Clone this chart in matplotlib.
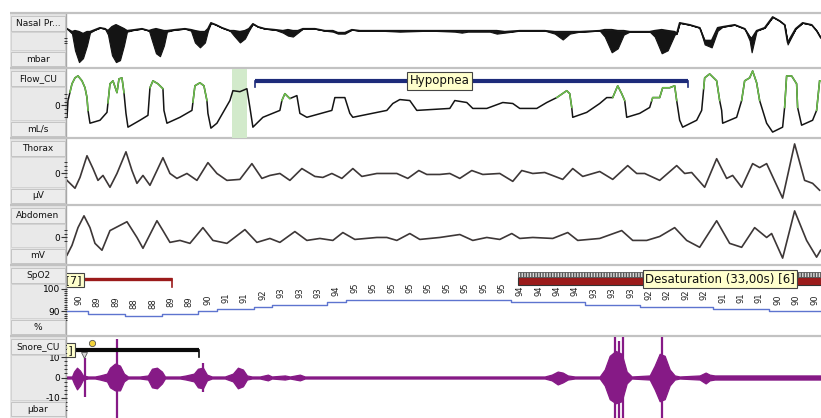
import numpy as np
import matplotlib
matplotlib.use("Agg")
import matplotlib.pyplot as plt
from matplotlib.patches import Rectangle

# ---------------------------------------------------------------- data
FS = 18.4
WINDOW = 41.0      # seconds shown in the page

# Nasal pressure: sample index, signal (top of flutter), lower flutter envelope
nasal_idx = [0, 5, 8, 12, 16, 20, 23, 28, 33, 38, 41, 45, 49, 53, 57, 60, 68, 75, 82, 85,
             89, 93, 97, 100, 108, 118, 124, 128, 133, 138, 141, 144, 149, 155, 163, 167,
             173, 178, 182, 186, 191, 198, 208, 216, 221, 226, 231, 236, 248, 258, 266, 271,
             278, 285, 293, 313, 333, 363, 388, 395, 401, 423, 430, 438, 453, 478, 488, 496,
             503, 513, 533, 538, 545, 551, 557, 563, 583, 588, 595, 601, 608, 610, 613, 623,
             633, 638, 645, 651, 656, 668, 678, 683, 685, 690, 698, 706, 713, 718, 721, 725,
             729, 736, 745, 750, 754]
nasal_val = [2, -1, 0, -1, -3, -1, -1, 1, 3, 2, 0, 4, 6, 4, 2, 0, 1, 2, 0, 1,
             2, 1, 0, 0, 1, 2, 1, 0, -1, -1, 2, 8, 6, 3, 0, 0,
             -1, 0, 2, 7, 4, 2, 1, 0, 1, 0, 0, 2, 2, 0, 0, -2,
             -2, 1, 0, 0, 0, 0, 0, 0, 0, 0, 0, -1, 0, 0, -1, -1,
             -1, -1, 0, 1, 1, 0, 0, -1, -1, 0, 1, 0, -1, -3, 8, 6,
             3, -10, -10, 3, 4, 6, 2, -6, -8, 0, 3, 14, 10, 6, -12, -5,
             2, 8, 6, 0, -7]
nasal_low = [2, -3, -20, -32, -28, -15, -2, 1, 3, 2, -4, -25, -32, -30, -15, -1, 1, 2, 0, -10,
             -23, -26, -15, -1, 1, 2, 0, -12, -17, -12, 0, 8, 6, 3, 0, -5,
             -12, -8, 0, 7, 4, 2, 1, -2, -5, -6, -2, 2, 2, 0, -1, -3,
             -3, 1, 0, 0, -1, 0, -1, -2, -1, -1, -3, -2, 0, 0, -3, -9,
             -3, -1, 0, -6, -22, -18, -4, -1, -1, -6, -23, -20, -4, -3, 8, 6,
             3, -14, -17, 0, 4, 6, 2, -10, -22, 0, 3, 14, 10, 6, -14, -6,
             2, 8, 6, 0, -7]

# Flow: sample index, value
flow_idx = [0, 1, 5, 8, 11, 15, 18, 20, 21, 23, 33, 40, 43, 46, 50, 52, 55, 57, 59, 61,
            73, 81, 83, 86, 91, 96, 97, 100, 113, 125, 128, 133, 137, 140, 141, 144, 150,
            163, 166, 173, 180, 183, 186, 196, 213, 215, 218, 223, 230, 233, 240, 265, 268,
            278, 283, 286, 320, 326, 333, 343, 350, 383, 388, 400, 406, 420, 436, 446, 453,
            470, 480, 490, 500, 503, 505, 506, 520, 533, 540, 546, 551, 555, 558, 560, 573,
            583, 586, 593, 596, 603, 608, 610, 613, 616, 630, 635, 638, 643, 650, 653, 655,
            656, 670, 675, 678, 683, 686, 690, 693, 700, 706, 716, 718, 720, 725, 730, 731,
            735, 746, 750, 753]
flow_val = [-12, 5, 22, 28, 30, 25, 18, 8, -5, -18, -15, -7, 22, 25, 13, 27, 28, 13, -8, -22,
            -15, -10, 18, 25, 22, 17, -5, -18, -12, -5, 20, 23, 20, 5, -8, -23, -18,
            5, 15, 14, 17, -2, -22, -12, -5, 5, 12, 7, 10, -8, -12, -5, 8,
            8, -8, -12, -5, 2, 6, 5, -5, -3, 5, 3, -3, -3, 3, 2, -3,
            -3, 3, 8, 15, 12, -2, -12, -7, 2, 8, 8, 20, 12, 5, -12, -8,
            -2, 8, 8, 18, 18, 20, 5, -15, -22, -15, -5, 28, 32, 25, 5, -5,
            -18, -12, 5, 25, 28, 35, 23, 5, -18, -27, -22, -2, 30, 30, 22, -2,
            -20, -15, -5, 25]
flow_green = [(3, 21), (41, 57), (83, 96), (126, 140), (215, 223), (490, 505), (546, 558),
              (585, 610), (637, 653), (675, 693), (718, 731), (750, 754)]

# Thorax effort
thorax_idx = [0, 8, 13, 20, 26, 31, 36, 43, 50, 59, 65, 70, 76, 83, 90, 96, 103, 110, 120,
              130, 141, 150, 160, 173, 185, 195, 203, 213, 223, 235, 248, 256, 265, 275, 286,
              295, 310, 330, 341, 352, 360, 373, 383, 393, 405, 416, 433, 446, 455, 466, 478,
              496, 506, 516, 533, 546, 561, 570, 578, 593, 610, 618, 625, 638, 650, 660, 666,
              675, 686, 693, 700, 716, 728, 738, 746, 753]
thorax_val = [-7, -15, -4, 18, 5, -7, -2, -14, 0, 22, 3, -10, -2, -12, 3, 16, 0, -5, 0,
              -7, 11, 0, -7, -6, 10, -5, -2, 0, -7, 5, -3, -4, 0, -5, 5,
              -3, 0, 0, -5, 3, -1, -1, 0, -5, 3, -1, 0, -8, 3, 0, 1,
              -6, 5, -3, 2, -6, 8, 0, 0, -7, 8, 0, 1, -14, 15, -5, -2,
              -14, 10, 6, 10, -25, 30, -7, -10, -17]

# Abdomen effort
abdomen_idx = [0, 5, 11, 17, 23, 28, 35, 43, 60, 70, 76, 90, 96, 103, 113, 123, 136, 146,
               160, 178, 190, 203, 213, 228, 240, 253, 266, 276, 288, 310, 320, 330, 343,
               353, 373, 393, 406, 420, 433, 445, 453, 466, 486, 501, 511, 533, 555, 566,
               580, 593, 608, 620, 633, 650, 663, 675, 688, 700, 705, 716, 728, 740, 750, 754]
abdomen_val = [-18, -8, 10, 22, 10, -6, -13, 7, 16, 0, -11, 17, 7, -5, -3, -6, 10, -3,
               -6, 8, -5, -1, -5, 6, -3, -1, -3, 5, -2, 0, 0, -3, 4,
               -2, 0, 3, -3, 0, -2, 4, -1, 0, -1, 5, -3, -1, 7, -3,
               -3, 1, 10, -3, -10, 17, -6, -10, 10, 0, 4, -21, 27, -3, -20, -13]

# SpO2 (%), one value per second
SPO2_T0 = 0.65
spo2 = [90, 89, 89, 88, 88, 89, 89, 90, 91, 91, 92, 93, 93, 93, 94, 95, 95, 95, 95, 95, 95,
        95, 95, 95, 94, 94, 94, 94, 93, 93, 93, 92, 92, 92, 92, 91, 91, 91, 90, 90, 90]

# Snore: envelope (µbar) and isolated spikes
snore_idx = [0, 5, 7, 10, 13, 16, 21, 28, 33, 40, 43, 48, 53, 57, 61, 73, 81, 85, 90, 95,
             98, 113, 119, 127, 131, 136, 140, 145, 158, 166, 171, 176, 180, 185, 193, 201,
             205, 218, 223, 233, 238, 333, 478, 485, 491, 496, 501, 508, 533, 538, 543, 549,
             555, 560, 565, 583, 588, 593, 598, 603, 608, 613, 633, 639, 643, 648, 700, 754]
snore_up = [0.5, 0.5, 2.9, 4.8, 3.4, 1.0, 0.5, 0.5, 1.0, 1.9, 4.8, 6.8, 5.8, 1.9, 0.5, 0.5,
            1.0, 4.3, 4.8, 2.9, 0.5, 0.5, 1.0, 1.9, 4.3, 4.8, 1.4, 0.5, 0.5, 1.9, 4.8, 3.9,
            1.0, 0.5, 0.5, 1.4, 0.5, 1.0, 0.5, 1.4, 0.5, 0.5, 0.5, 1.4, 2.9, 2.4, 1.0, 0.5,
            0.5, 3.9, 10.6, 13.0, 11.6, 2.9, 0.5, 1.0, 5.8, 11.6, 10.6, 3.9, 1.0, 0.5, 1.0,
            2.4, 1.4, 1.0, 1.0, 1.0]
snore_down = [-0.5, -0.5, -2.9, -5.8, -3.9, -1.0, -0.5, -0.5, -1.0, -1.9, -4.8, -6.3, -6.3,
              -1.9, -0.5, -0.5, -1.0, -4.8, -5.3, -2.9, -0.5, -0.5, -1.0, -1.9, -4.8, -5.3,
              -1.4, -0.5, -0.5, -1.9, -5.3, -4.3, -1.0, -0.5, -0.5, -1.4, -0.5, -1.0, -0.5,
              -1.4, -0.5, -0.5, -0.5, -1.4, -3.4, -2.4, -1.0, -0.5, -0.5, -3.9, -10.6, -12.6,
              -11.6, -2.9, -0.5, -1.0, -5.8, -11.6, -10.6, -3.9, -1.0, -0.5, -1.0, -2.9, -1.4,
              -1.0, -1.0, -1.0]
spike_idx = [18, 50, 136, 548, 552, 556, 595]
spike_top = [9.7, 19.0, 7.2, 20.0, 18.0, 20.0, 20.0]
spike_bot = [-9.7, -25.0, -7.2, -25.0, -25.0, -25.0, -25.0]

# Scored events (seconds)
MARKED_SPAN = (8.97, 9.78)
HYPOPNEA = (10.2, 33.75)
DESAT_START, DESAT_DUR = 24.5, 33.0
PREV_DESAT_END = 5.7
SNORE_EVENT_END = 7.2

# ---------------------------------------------------------------- layout
W, H = 821, 418
X0, X1 = 67, 821
rows = [(13, 68), (68, 138), (138, 205), (205, 265), (265, 336), (336, 418)]
names = ["Nasal Pr...", "Flow_CU", "Thorax", "Abdomen", "SpO2", "Snore_CU"]
units = ["mbar", "mL/s", "µV", "mV", "%", "µbar"]
ylims = [(-38, 17), (-33, 37), (-32, 35), (-28, 32), (79.13, 110.0), (-19.8, 19.8)]

TRACE = "#141414"
EFFORT = "#3d3737"
GREEN = "#6cc04a"
PURPLE = "#861a86"
RED = "#9b1b1b"
NAVY = "#1d2b7a"
BOXFACE = "#ffffcc"
PANEL = "#e4e4e4"
SEP = "#c2c2c2"

plt.rcParams["font.family"] = ["DejaVu Sans"]

fig = plt.figure(figsize=(W / 100, H / 100), dpi=100)
fig.patch.set_facecolor("white")


def frect(x0, y0, x1, y1):
    return [x0 / W, 1 - y1 / H, (x1 - x0) / W, (y1 - y0) / H]


# background: label panel & separators
bg = fig.add_axes([0, 0, 1, 1], zorder=-5)
bg.set_xlim(0, W)
bg.set_ylim(H, 0)
bg.axis("off")
bg.add_patch(Rectangle((10, 13), 56, H - 13, facecolor=PANEL, edgecolor="none"))
bg.plot([66, 66], [13, H], color="#a8a8a8", lw=1.0)
for (top, bot) in rows:
    bg.plot([10, W], [top, top], color=SEP, lw=1.6, solid_capstyle="butt")
    bg.add_patch(Rectangle((11, top + 19), 54, (bot - top) - 37, facecolor="#e9e9e9",
                           edgecolor="#d0d0d0", lw=0.6))

# foreground: name & unit boxes (above tick labels)
fg = fig.add_axes([0, 0, 1, 1], zorder=5)
fg.set_xlim(0, W)
fg.set_ylim(H, 0)
fg.axis("off")
fg.patch.set_alpha(0)
for (top, bot), nm, un in zip(rows, names, units):
    fg.add_patch(Rectangle((11, top + 3), 54, 15, facecolor="#ececec", edgecolor="#c4c4c4", lw=0.7))
    fg.add_patch(Rectangle((11, bot - 16), 54, 14, facecolor="#ececec", edgecolor="#c4c4c4", lw=0.7))
    fg.text(38, top + 10.5, nm, ha="center", va="center", fontsize=6.5, color="#111")
    fg.text(38, bot - 9, un, ha="center", va="center", fontsize=6.5, color="#111")

axes = []
for (top, bot), yl in zip(rows, ylims):
    ax = fig.add_axes(frect(X0, top + 1, X1, bot), zorder=1)
    ax.set_xlim(0, WINDOW)
    ax.set_ylim(*yl)
    ax.patch.set_alpha(0)
    for s in ax.spines.values():
        s.set_visible(False)
    ax.set_xticks([])
    ax.tick_params(axis="y", which="major", direction="out", length=4, width=0.8,
                   color="#333", labelsize=6.5, pad=1)
    ax.tick_params(axis="y", which="minor", direction="out", length=2.5, width=0.7, color="#333")
    axes.append(ax)

ax_n, ax_f, ax_t, ax_a, ax_s, ax_sn = axes

# ---- Nasal pressure
tn = np.asarray(nasal_idx) / FS
ax_n.fill_between(tn, nasal_val, nasal_low, color=TRACE, lw=0.8)
ax_n.plot(tn, nasal_val, color=TRACE, lw=1.2)
ax_n.set_yticks([])
ax_n.set_yticks([-7, -10, -13], minor=True)

# ---- Flow
tf = np.asarray(flow_idx) / FS
fv = np.asarray(flow_val, dtype=float)
ax_f.axvspan(*MARKED_SPAN, color="#d2eacb", lw=0)
ax_f.plot(tf, fv, color=TRACE, lw=1.1)
for a, b in flow_green:
    a, b = a / FS, b / FS
    m = (tf > a) & (tf < b)
    tt = np.concatenate([[a], tf[m], [b]])
    yy = np.concatenate([[np.interp(a, tf, fv)], fv[m], [np.interp(b, tf, fv)]])
    ax_f.plot(tt, yy, color=GREEN, lw=1.1)
ax_f.set_yticks([0])
ax_f.set_yticklabels(["0"])
ax_f.set_yticks([-12, -8, -4, 4, 8, 12], minor=True)
xt = ax_f.get_xaxis_transform()
ax_f.plot([HYPOPNEA[0], HYPOPNEA[1]], [0.83, 0.83], transform=xt, color=NAVY, lw=3.0,
          solid_capstyle="butt")
for x in HYPOPNEA:
    ax_f.plot([x, x], [0.83, 0.74], transform=xt, color=NAVY, lw=1.2)
ax_f.text(20.25, 0.83, "Hypopnea", transform=xt, ha="center", va="center", fontsize=8.5,
          color="#111", bbox=dict(boxstyle="square,pad=0.2", fc=BOXFACE, ec="#444", lw=0.8))

# ---- Thorax / Abdomen
ax_t.plot(np.asarray(thorax_idx) / FS, thorax_val, color=EFFORT, lw=1.2, solid_joinstyle="round")
ax_t.set_yticks([0])
ax_t.set_yticklabels(["0"])
ax_t.set_yticks([-4, 4, 8, 12], minor=True)
ax_a.plot(np.asarray(abdomen_idx) / FS, abdomen_val, color=EFFORT, lw=1.2, solid_joinstyle="round")
ax_a.set_yticks([0])
ax_a.set_yticklabels(["0"])
ax_a.set_yticks([-4, 4, 8], minor=True)

# ---- SpO2
ts = SPO2_T0 + np.arange(len(spo2))
tl = np.concatenate([[0.0], ts, [WINDOW]])
vl = np.concatenate([[spo2[0]], spo2, [spo2[-1]]])
ax_s.plot(tl, vl, drawstyle="steps-mid", color="#5d74cf", lw=1.0)
for t, v in zip(ts, spo2):
    ax_s.annotate(str(v), (t, v), xytext=(0, 8.5), textcoords="offset points", rotation=90,
                  ha="center", va="center", fontsize=6, color="#222")
ax_s.set_yticks([90, 100])
ax_s.set_yticklabels(["90", "100"])
ax_s.set_yticks(np.arange(86, 100), minor=True)
xs = ax_s.get_xaxis_transform()
ax_s.plot([-5, PREV_DESAT_END], [0.82, 0.82], transform=xs, color=RED, lw=2.4,
          solid_capstyle="butt")
ax_s.plot([PREV_DESAT_END, PREV_DESAT_END], [0.82, 0.70], transform=xs, color=RED, lw=1.2)
ax_s.text(0.8, 0.80, "Desaturation (32,00s) [7]", transform=xs, ha="right", va="center",
          fontsize=8, clip_on=True, color="#111",
          bbox=dict(boxstyle="square,pad=0.2", fc=BOXFACE, ec="#444", lw=0.8))
ax_s.add_patch(Rectangle((DESAT_START, 0.73), DESAT_DUR, 0.12, transform=xs, facecolor=RED,
                         edgecolor="#333", lw=0.8))
ax_s.add_patch(Rectangle((DESAT_START, 0.85), DESAT_DUR, 0.06, transform=xs, facecolor="#dcdcdc",
                         edgecolor="#555", lw=0.6, hatch="||||||"))
ax_s.text(35.5, 0.81, "Desaturation (33,00s) [6]", transform=xs, ha="center", va="center",
          fontsize=8.5, color="#111",
          bbox=dict(boxstyle="square,pad=0.2", fc=BOXFACE, ec="#444", lw=0.8))

# ---- Snore
tsn = np.asarray(snore_idx) / FS
ax_sn.fill_between(tsn, snore_up, snore_down, color=PURPLE, lw=0.9)
ax_sn.vlines(np.asarray(spike_idx) / FS, spike_bot, spike_top, color=PURPLE, lw=1.6)
ax_sn.set_yticks([-10, 0, 10])
ax_sn.set_yticklabels(["-10", "0", "10"])
ax_sn.set_yticks(np.arange(-16, 18, 2), minor=True)
xn = ax_sn.get_xaxis_transform()
ax_sn.plot([-5, SNORE_EVENT_END], [0.84, 0.84], transform=xn, color="#0a0a0a", lw=3.0,
           solid_capstyle="butt")
ax_sn.plot([SNORE_EVENT_END, SNORE_EVENT_END], [0.84, 0.75], transform=xn, color="#0a0a0a", lw=1.2)
ax_sn.text(0.33, 0.84, "Snore [2]", transform=xn, ha="right", va="center", fontsize=8,
           clip_on=True, color="#111",
           bbox=dict(boxstyle="square,pad=0.2", fc=BOXFACE, ec="#444", lw=0.8))
# small event icons next to the snore marker
ax_sn.plot([0.95], [0.78], transform=xn, marker="v", ms=5, mfc="#d8d8d8", mec="#555", mew=0.6)
ax_sn.plot([1.35], [0.93], transform=xn, marker="o", ms=4.5, mfc="#f2d23a", mec="#555", mew=0.6)

fig.savefig("out.png", dpi=100)
